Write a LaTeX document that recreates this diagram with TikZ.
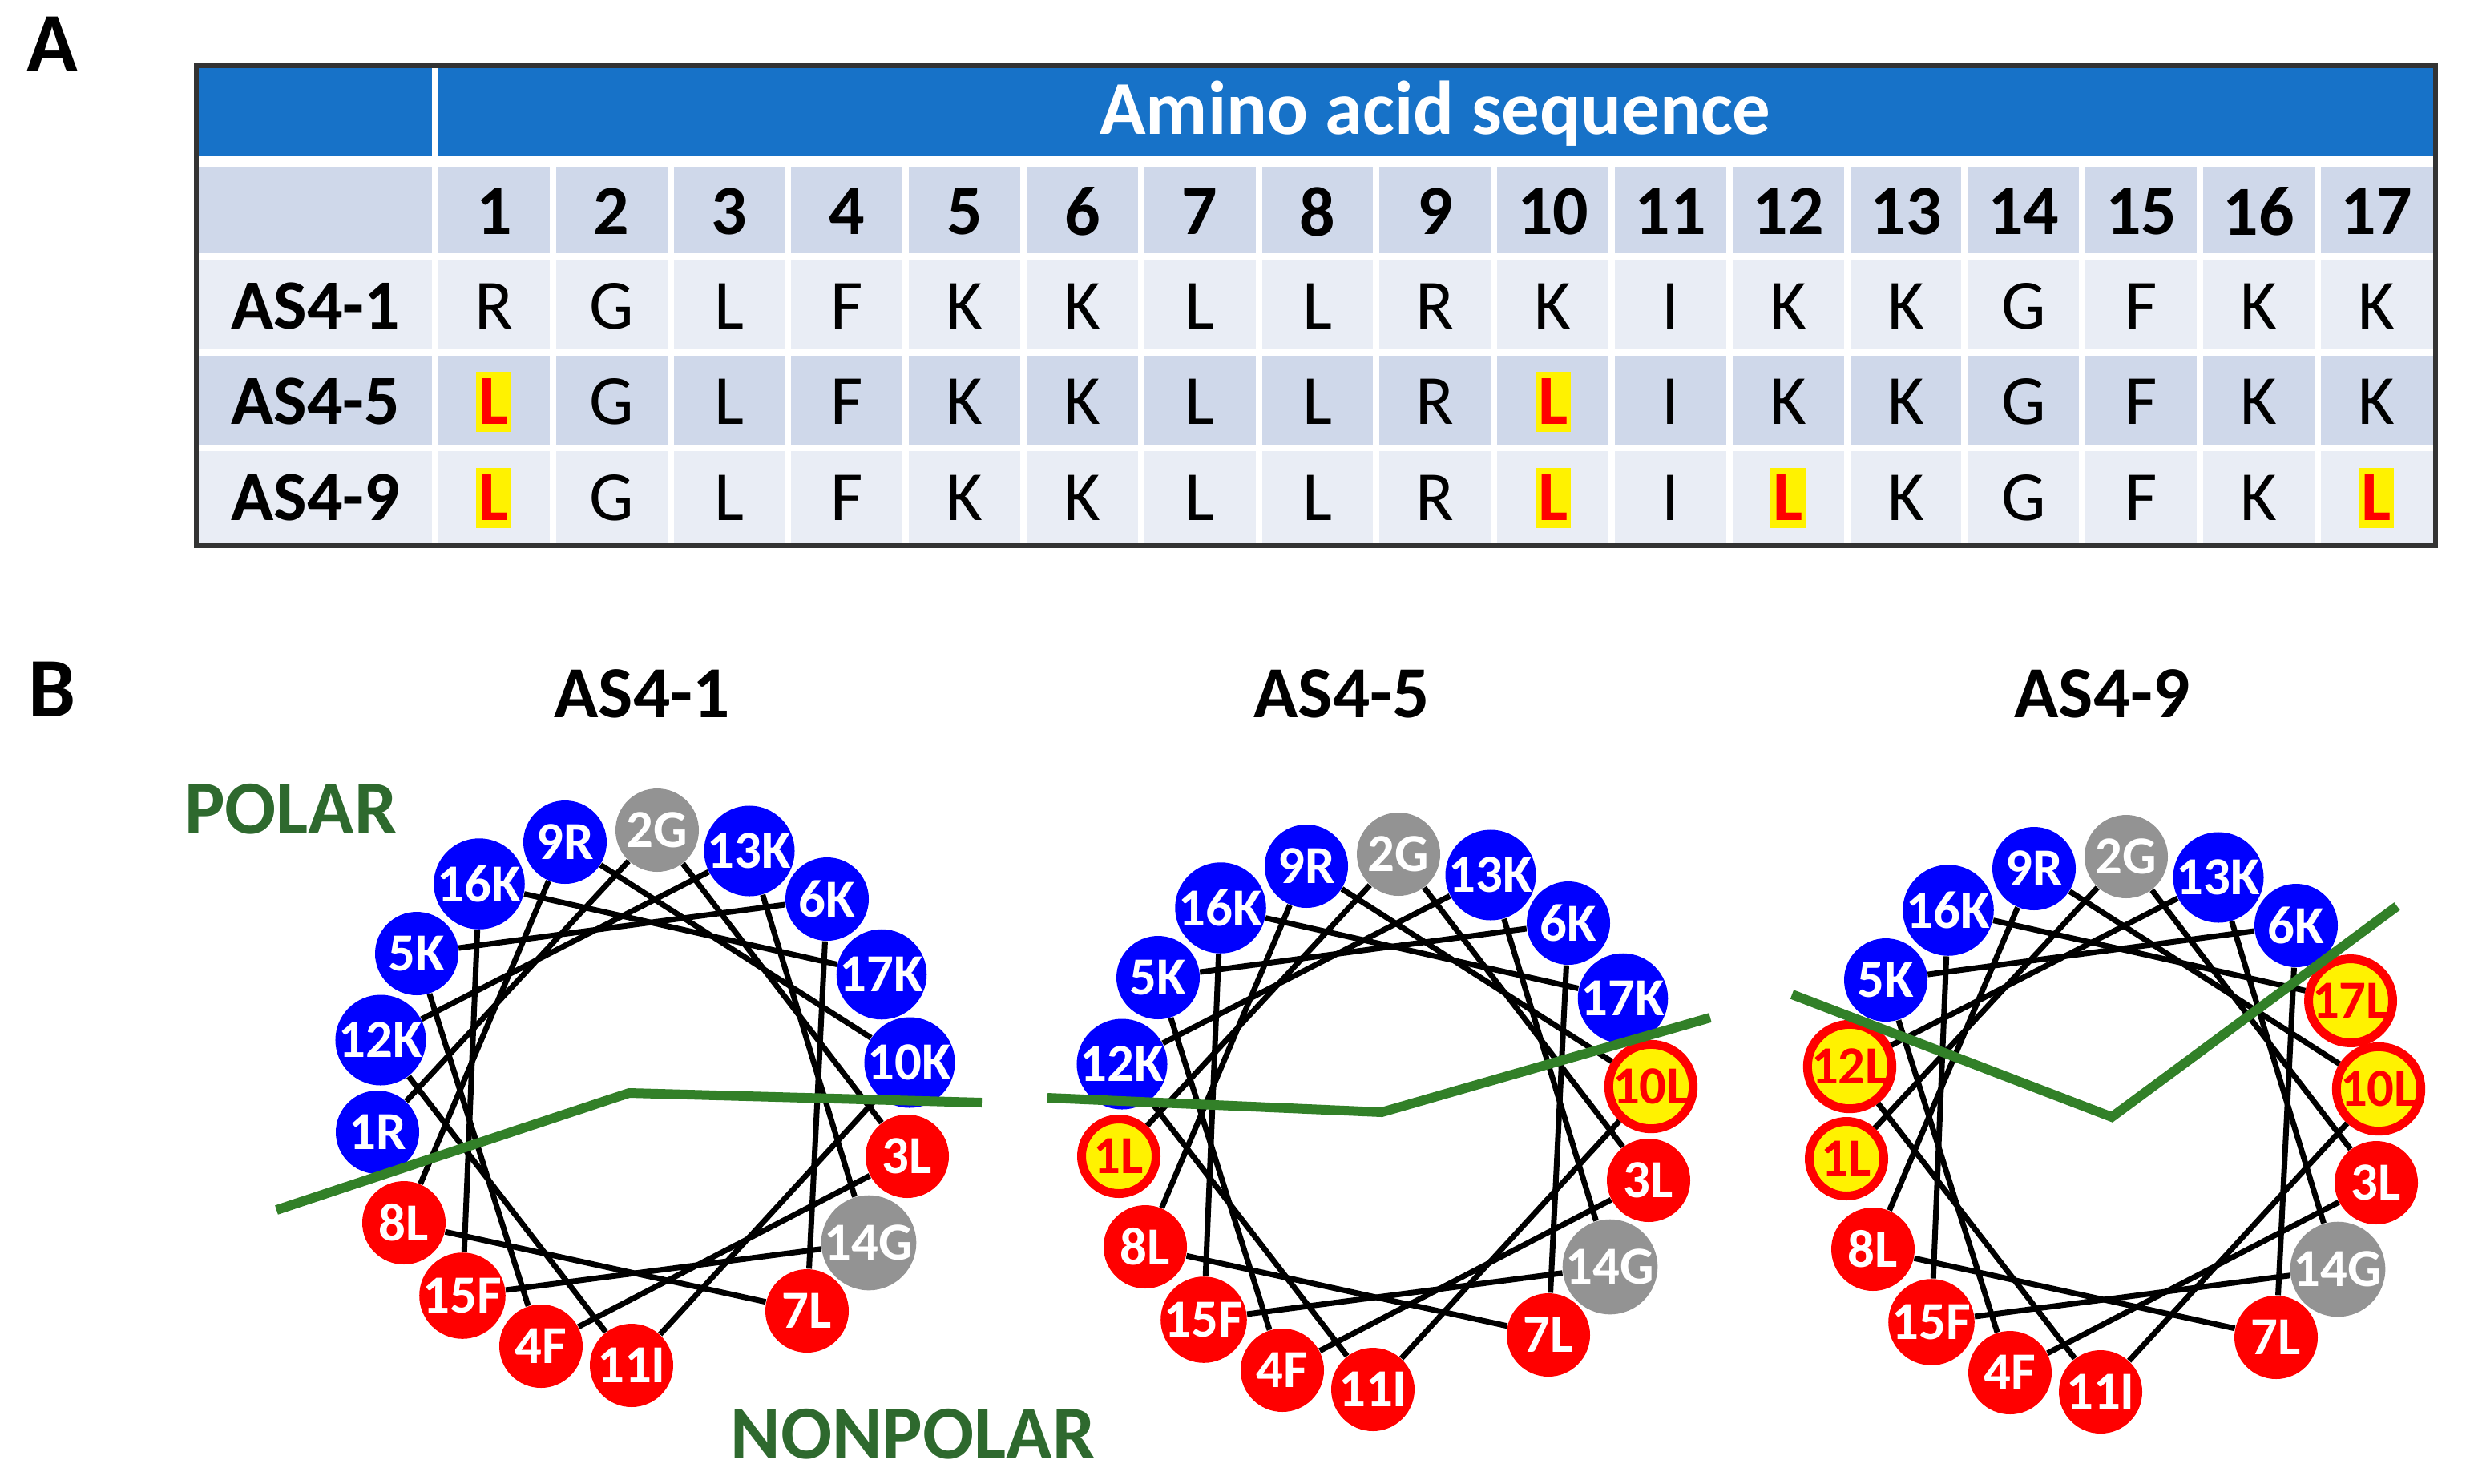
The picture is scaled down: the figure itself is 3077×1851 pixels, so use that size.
\documentclass[tikz,border=0pt]{standalone}
\usepackage{fontspec}
\setmainfont{Carlito}
\definecolor{hblue}{RGB}{23,114,200}
\definecolor{rowA}{RGB}{207,216,234}
\definecolor{rowB}{RGB}{233,237,245}
\definecolor{divg}{RGB}{50,128,40}
\definecolor{polg}{RGB}{46,105,46}
\begin{document}
\begin{tikzpicture}[x=0.1mm,y=-0.1mm,
  res/.style={circle,minimum size=10.4mm,inner sep=0pt,text=white,font=\fontsize{19}{19}\selectfont\bfseries},
  pb/.style={res,fill=blue},
  pr/.style={res,fill=red},
  pg/.style={res,fill=gray!85},
  py/.style={res,fill=yellow,draw=red,line width=1.1mm,text=red,minimum size=9.3mm},
  hel/.style={line width=0.7mm,black},
  div/.style={line width=1.2mm,divg},
  cell/.style={font=\fontsize{25}{25}\selectfont},
  hd/.style={font=\fontsize{25}{25}\selectfont\bfseries},
  mut/.style={fill=yellow,text=red,font=\fontsize{25}{25}\selectfont\bfseries,inner sep=1pt,minimum height=7.5mm,minimum width=3.2mm},
  ttl/.style={font=\fontsize{26}{26}\selectfont\bfseries},
  lab/.style={font=\fontsize{30}{30}\selectfont\bfseries},
  pol/.style={font=\fontsize{27}{27}\selectfont\bfseries,text=polg}]
\useasboundingbox (0,0) rectangle (3077,1851);
% ---------- Panel A ----------
\node[lab] (LA) at (65,55) {A};
\fill[hblue] (245,82) rectangle (3039,195);
\fill[rowA] (245,208) rectangle (3039,320);
\fill[rowB] (245,320) rectangle (3039,440);
\fill[rowA] (245,440) rectangle (3039,559);
\fill[rowB] (245,559) rectangle (3039,681);
\draw[white,line width=0.8mm] (543,82) -- (543,681);
\foreach \i in {1,...,16}{
  \draw[white,line width=0.8mm] ({543+146.8*\i},208) -- ({543+146.8*\i},681);}
\foreach \yy in {320,440,559}{\draw[white,line width=0.8mm] (245,\yy) -- (3039,\yy);}
\fill[white] (245,195) rectangle (3039,208);
\draw[black!80,line width=0.6mm] (245,82) rectangle (3039,681);
\node[text=white,font=\fontsize{27}{27}\selectfont\bfseries] (hdr) at (1791,142) {Amino acid sequence};
\node[hd] (r1) at (394,382) {AS4-1};
\node[hd] (r5) at (394,501) {AS4-5};
\node[hd] (r9) at (394,621) {AS4-9};
\foreach \t [count=\i] in {R,G,L,F,K,K,L,L,R,K,I,K,K,G,F,K,K}{
  \node[hd] (n\i) at ({543+146.8*(\i-0.5)},264) {\i};
  \node[cell] (a\i) at ({543+146.8*(\i-0.5)},382) {\t};}
\foreach \t [count=\i] in {L,G,L,F,K,K,L,L,R,L,I,K,K,G,F,K,K}{
  \ifnum\i=1 \node[mut] (b\i) at ({543+146.8*(\i-0.5)},501) {L};
  \else\ifnum\i=10 \node[mut] (b\i) at ({543+146.8*(\i-0.5)},501) {L};
  \else \node[cell] (b\i) at ({543+146.8*(\i-0.5)},501) {\t};\fi\fi}
\foreach \t [count=\i] in {L,G,L,F,K,K,L,L,R,L,I,L,K,G,F,K,L}{
  \ifnum\i=1 \node[mut] (c\i) at ({543+146.8*(\i-0.5)},621) {L};
  \else\ifnum\i=10 \node[mut] (c\i) at ({543+146.8*(\i-0.5)},621) {L};
  \else\ifnum\i=12 \node[mut] (c\i) at ({543+146.8*(\i-0.5)},621) {L};
  \else\ifnum\i=17 \node[mut] (c\i) at ({543+146.8*(\i-0.5)},621) {L};
  \else \node[cell] (c\i) at ({543+146.8*(\i-0.5)},621) {\t};\fi\fi\fi\fi}
% ---------- Panel B ----------
\node[lab] (LB) at (65,860) {B};
\node[ttl] (t1) at (801,866) {AS4-1};
\node[ttl] (t2) at (1674,866) {AS4-5};
\node[ttl] (t3) at (2623,866) {AS4-9};
\node[pol] (polar) at (363,1010) {POLAR};
\node[pol] (nonpolar) at (1139,1790) {NONPOLAR};
\newcommand{\mywheel}[3]{%
\begin{scope}[shift={(#2,#3)}]
\node[pb] (#1-9) at (705,1051) {9R};
\node[pg] (#1-2) at (820,1036) {2G};
\node[pb] (#1-13) at (935,1062) {13K};
\node[pb] (#1-6) at (1032,1122) {6K};
\node[sA] (#1-17) at (1100,1216) {17\lA};
\node[sB] (#1-10) at (1135,1326) {10\lB};
\node[pr] (#1-3) at (1132,1443) {3L};
\node[pg] (#1-14) at (1084,1551) {14G};
\node[pr] (#1-7) at (1007,1636) {7L};
\node[pr] (#1-11) at (788,1704) {11I};
\node[pr] (#1-4) at (675,1680) {4F};
\node[pr] (#1-15) at (577,1617) {15F};
\node[pr] (#1-8) at (504,1526) {8L};
\node[sC] (#1-1) at (471,1413) {1\lC};
\node[sD] (#1-12) at (475,1298) {12\lD};
\node[pb] (#1-5) at (520,1190) {5K};
\node[pb] (#1-16) at (598,1103) {16K};
\foreach \a/\b in {1/2,2/3,3/4,4/5,5/6,6/7,7/8,8/9,9/10,10/11,11/12,12/13,13/14,14/15,15/16,16/17}
  \draw[hel] (#1-\a) -- (#1-\b);
\end{scope}}
% wheel 1
\tikzset{sA/.style={pb},sB/.style={pb},sC/.style={pb},sD/.style={pb}}
\def\lA{K}\def\lB{K}\def\lC{R}\def\lD{K}
\mywheel{w1}{0}{0}
\coordinate (g1a) at (345,1510); \coordinate (g1b) at (785,1364); \coordinate (g1c) at (1225,1376);
\draw[div] (g1a) -- (g1b) -- (g1c);
% wheel 2
\tikzset{sA/.style={pb},sB/.style={py},sC/.style={py},sD/.style={pb}}
\def\lA{K}\def\lB{L}\def\lC{L}\def\lD{K}
\mywheel{w2}{925}{30}
\coordinate (g2a) at (1307,1370); \coordinate (g2b) at (1724,1388); \coordinate (g2c) at (2134,1270);
\draw[div] (g2a) -- (g2b) -- (g2c);
% wheel 3
\tikzset{sA/.style={py},sB/.style={py},sC/.style={py},sD/.style={py}}
\def\lA{L}\def\lB{L}\def\lC{L}\def\lD{L}
\mywheel{w3}{1833}{33}
\coordinate (g3a) at (2236,1241); \coordinate (g3b) at (2635,1394); \coordinate (g3c) at (2991,1131);
\draw[div] (g3a) -- (g3b) -- (g3c);
\end{tikzpicture}
\end{document}
